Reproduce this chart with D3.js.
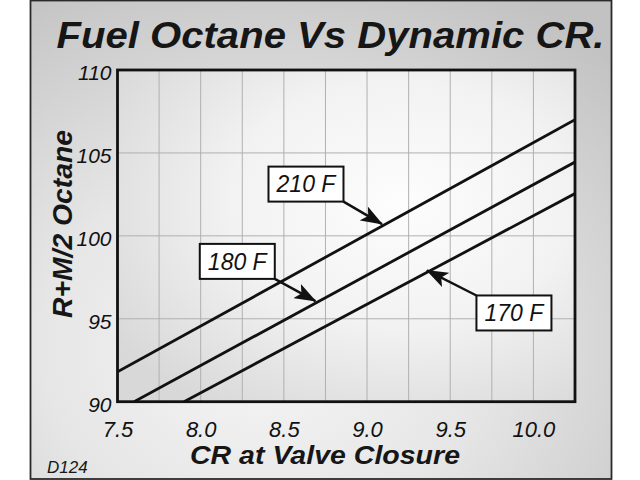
<!DOCTYPE html>
<html>
<head>
<meta charset="utf-8">
<script src="https://cdn.jsdelivr.net/npm/d3@7/dist/d3.min.js"></script>
<style>
  html, body { margin: 0; padding: 0; background: #ffffff; }
  svg { display: block; }
</style>
</head>
<body>
<svg id="chart" width="640" height="480"></svg>
<script>
// ---- Data ----
const titleText = "Fuel Octane Vs Dynamic CR.";
const xLabel = "CR at Valve Closure";
const yLabel = "R+M/2 Octane";
const noteText = "D124";

const crTicks = [7.5, 8.0, 8.5, 9.0, 9.5, 10.0];
const crGrid = [7.75, 8.0, 8.25, 8.5, 8.75, 9.0, 9.25, 9.5, 9.75, 10.0];
const octaneTicks = [90, 95, 100, 105, 110];
const octaneGrid = [95, 100, 105];

const seriesNames = ["210 F", "180 F", "170 F"];
const cr210 = [7.5, 10.25];
const oct210 = [91.8, 107.0];
const cr180 = [7.6, 10.25];
const oct180 = [90.0, 104.45];
const cr170 = [7.9, 10.25];
const oct170 = [90.0, 102.55];

// label annotations: box centre (data space) and arrow tip CR on the line
const labelCR = [8.633, 8.22, 9.883];
const labelOct = [103.12, 98.46, 95.35];
const arrowTipCR = [9.09, 8.69, 9.36];

// ---- Build ----
const svg = d3.select("#chart");
const defs = svg.append("defs");

const fg = defs.append("radialGradient").attr("id", "frameGrad")
  .attr("cx", "40%").attr("cy", "72%").attr("r", "85%");
fg.append("stop").attr("offset", "0%").attr("stop-color", "#f6f6f6");
fg.append("stop").attr("offset", "45%").attr("stop-color", "#e6e6e6");
fg.append("stop").attr("offset", "100%").attr("stop-color", "#c2c2c2");

const pg = defs.append("radialGradient").attr("id", "plotGrad")
  .attr("cx", "62%").attr("cy", "40%").attr("r", "75%");
pg.append("stop").attr("offset", "0%").attr("stop-color", "#fdfdfd");
pg.append("stop").attr("offset", "50%").attr("stop-color", "#f2f2f2");
pg.append("stop").attr("offset", "100%").attr("stop-color", "#d8d8d8");

defs.append("marker").attr("id", "arrow")
  .attr("markerUnits", "userSpaceOnUse")
  .attr("viewBox", "0 0 22 16").attr("refX", 21).attr("refY", 8)
  .attr("markerWidth", 22).attr("markerHeight", 16)
  .attr("orient", "auto")
  .append("path").attr("d", "M0,0 L22,8 L0,16 L5,8 Z").attr("fill", "#111");

// outer frame
svg.append("rect").attr("x", 30.5).attr("y", 0.5).attr("width", 581).attr("height", 478.5)
  .attr("fill", "url(#frameGrad)").attr("stroke", "#2a2a2a").attr("stroke-width", 1.8);

const x = d3.scaleLinear().domain([7.5, 10.25]).range([117.5, 575]);
const y = d3.scaleLinear().domain([90, 110]).range([401.7, 70]);

// plot background
svg.append("rect").attr("x", x(7.5)).attr("y", y(110))
  .attr("width", x(10.25) - x(7.5)).attr("height", y(90) - y(110))
  .attr("fill", "url(#plotGrad)");

// grid
svg.append("g").selectAll("line").data(crGrid).join("line")
  .attr("x1", d => x(d)).attr("x2", d => x(d))
  .attr("y1", y(110)).attr("y2", y(90))
  .attr("stroke", "#b0b0b0").attr("stroke-width", 1);
svg.append("g").selectAll("line").data(octaneGrid).join("line")
  .attr("x1", x(7.5)).attr("x2", x(10.25))
  .attr("y1", d => y(d)).attr("y2", d => y(d))
  .attr("stroke", "#b0b0b0").attr("stroke-width", 1);

// series lines
const series = [
  { cr: cr210, oct: oct210 },
  { cr: cr180, oct: oct180 },
  { cr: cr170, oct: oct170 }
];
const line = d3.line().x(d => x(d[0])).y(d => y(d[1]));
const clip = defs.append("clipPath").attr("id", "plotClip");
clip.append("rect").attr("x", x(7.5)).attr("y", y(110))
  .attr("width", x(10.25) - x(7.5)).attr("height", y(90) - y(110));
svg.append("g").attr("clip-path", "url(#plotClip)")
  .selectAll("path").data(series).join("path")
  .attr("d", s => line(s.cr.map((c, i) => [c, s.oct[i]])))
  .attr("fill", "none").attr("stroke", "#111").attr("stroke-width", 2.8);

// plot border
svg.append("rect").attr("x", x(7.5)).attr("y", y(110))
  .attr("width", x(10.25) - x(7.5)).attr("height", y(90) - y(110))
  .attr("fill", "none").attr("stroke", "#111").attr("stroke-width", 2.8);

// axes
const xAxis = d3.axisBottom(x).tickValues(crTicks).tickFormat(d3.format(".1f"))
  .tickSize(0).tickPadding(20);
const gx = svg.append("g").attr("transform", `translate(0,${y(90)})`).call(xAxis);
gx.select(".domain").remove();
gx.selectAll("text").attr("font-family", "Liberation Sans, Arial, sans-serif")
  .attr("font-style", "italic").attr("font-size", 22).attr("fill", "#111");

const yAxis = d3.axisLeft(y).tickValues(octaneTicks).tickFormat(d3.format("d"))
  .tickSize(0).tickPadding(6);
const gy = svg.append("g").attr("transform", `translate(${x(7.5)},0)`).call(yAxis);
gy.select(".domain").remove();
gy.selectAll("text").attr("font-family", "Liberation Sans, Arial, sans-serif")
  .attr("font-style", "italic").attr("font-size", 21).attr("fill", "#111")
  .attr("dy", "0.45em");

// titles
svg.append("text").attr("x", 56.5).attr("y", 47.5)
  .attr("font-family", "Liberation Sans, Arial, sans-serif")
  .attr("font-weight", "bold").attr("font-style", "italic").attr("font-size", 37)
  .attr("textLength", 548).attr("lengthAdjust", "spacingAndGlyphs")
  .attr("fill", "#161616").text(titleText);

svg.append("text").attr("x", 190).attr("y", 464)
  .attr("font-family", "Liberation Sans, Arial, sans-serif")
  .attr("font-weight", "bold").attr("font-style", "italic").attr("font-size", 26)
  .attr("textLength", 270).attr("lengthAdjust", "spacingAndGlyphs")
  .attr("fill", "#161616").text(xLabel);

svg.append("text").attr("transform", "translate(72,318) rotate(-90)")
  .attr("font-family", "Liberation Sans, Arial, sans-serif")
  .attr("font-weight", "bold").attr("font-style", "italic").attr("font-size", 28)
  .attr("textLength", 188).attr("lengthAdjust", "spacingAndGlyphs")
  .attr("fill", "#161616").text(yLabel);

svg.append("text").attr("x", 47).attr("y", 473)
  .attr("font-family", "Liberation Sans, Arial, sans-serif")
  .attr("font-style", "italic").attr("font-size", 17)
  .attr("fill", "#161616").text(noteText);

// annotations
const boxW = 75, boxH = 35;
seriesNames.forEach((name, i) => {
  const s = series[i];
  const cx = x(labelCR[i]), cy = y(labelOct[i]);
  const slope = (s.oct[1] - s.oct[0]) / (s.cr[1] - s.cr[0]);
  const tipOct = s.oct[0] + slope * (arrowTipCR[i] - s.cr[0]);
  const tx = x(arrowTipCR[i]), ty = y(tipOct) - 2;
  const sx = cx + (tx > cx ? boxW / 2 : -boxW / 2);
  const sy = cy + (ty > cy ? boxH / 2 : -boxH / 2);
  svg.append("line").attr("x1", sx).attr("y1", sy).attr("x2", tx).attr("y2", ty)
    .attr("stroke", "#111").attr("stroke-width", 2.4).attr("marker-end", "url(#arrow)");
  svg.append("rect").attr("x", cx - boxW / 2).attr("y", cy - boxH / 2)
    .attr("width", boxW).attr("height", boxH)
    .attr("fill", "#ffffff").attr("stroke", "#111").attr("stroke-width", 2);
  svg.append("text").attr("x", cx).attr("y", cy).attr("dy", "0.36em")
    .attr("text-anchor", "middle")
    .attr("font-family", "Liberation Sans, Arial, sans-serif")
    .attr("font-style", "italic").attr("font-size", 23).attr("fill", "#111")
    .text(name);
});
</script>
</body>
</html>
